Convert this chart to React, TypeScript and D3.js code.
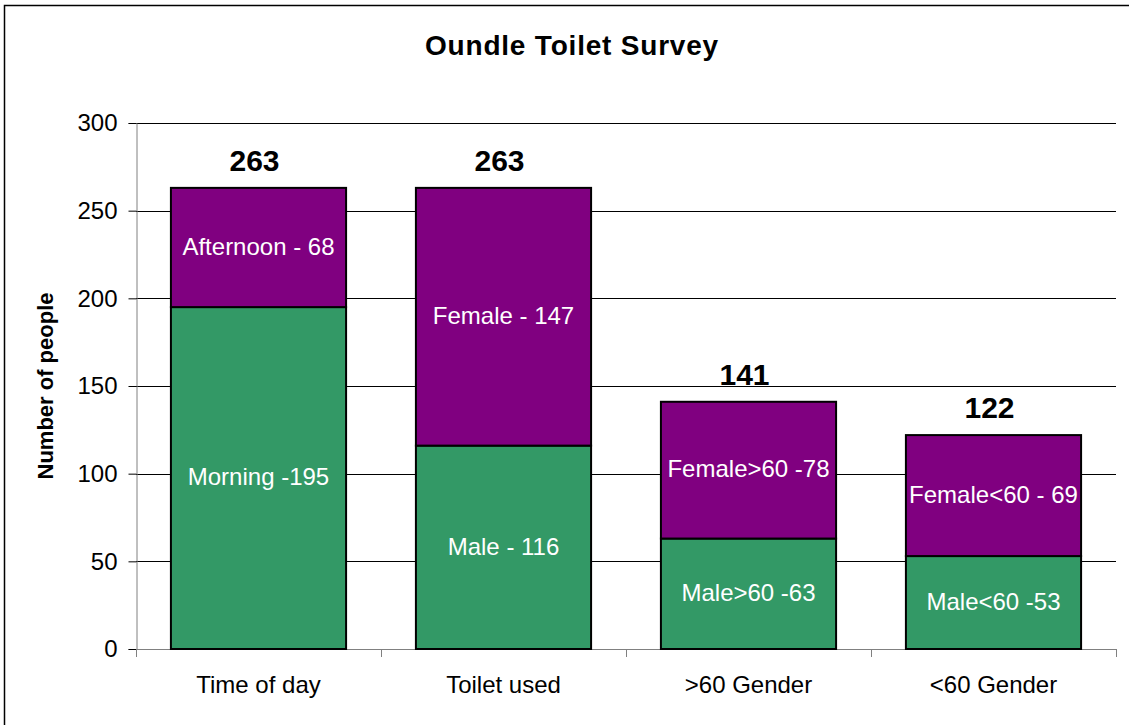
import { useEffect, useRef } from 'react';
import * as d3 from 'd3';

const categories = ['Time of day', 'Toilet used', '>60 Gender', '<60 Gender'];
const lowerValues = [195, 116, 63, 53];
const upperValues = [68, 147, 78, 69];
const lowerLabels = ['Morning -195', 'Male - 116', 'Male>60 -63', 'Male<60 -53'];
const upperLabels = ['Afternoon - 68', 'Female - 147', 'Female>60 -78', 'Female<60 - 69'];
const yTicks = [0, 50, 100, 150, 200, 250, 300];

const FONT = "'Liberation Sans', Arial, sans-serif";

export default function App() {
  const svgRef = useRef<SVGSVGElement>(null);

  useEffect(() => {
    if (!svgRef.current) return;

    const width = 1129;
    const height = 725;
    const margin = { top: 123, right: 13, bottom: 76, left: 136 };

    d3.select(svgRef.current).selectAll('*').remove();

    const svg = d3.select(svgRef.current).attr('width', width).attr('height', height);

    // outer frame (runs off the right and bottom edges)
    svg
      .append('rect')
      .attr('x', 4.5)
      .attr('y', 5.5)
      .attr('width', width + 20)
      .attr('height', height + 20)
      .attr('fill', 'white')
      .attr('stroke', '#000')
      .attr('stroke-width', 1.5);

    const xScale = d3
      .scaleBand()
      .domain(categories)
      .range([margin.left, width - margin.right])
      .paddingInner(0.285)
      .paddingOuter(0.1425);

    const yScale = d3
      .scaleLinear()
      .domain([0, 300])
      .range([height - margin.bottom, margin.top]);

    const x0 = margin.left;
    const x1 = width - margin.right;
    const yBase = height - margin.bottom;

    // grid lines
    svg
      .selectAll('.grid')
      .data(yTicks.filter((t) => t > 0))
      .enter()
      .append('line')
      .attr('x1', x0)
      .attr('x2', x1)
      .attr('y1', (d) => Math.round(yScale(d)) + 0.5)
      .attr('y2', (d) => Math.round(yScale(d)) + 0.5)
      .attr('stroke', '#000')
      .attr('stroke-width', 1);

    // y axis
    const yAxis = svg
      .append('g')
      .attr('transform', `translate(${x0 + 0.5}, 0)`)
      .call(d3.axisLeft(yScale).tickValues(yTicks).tickSize(8).tickPadding(11));
    yAxis.select('.domain').attr('stroke', '#808080');
    yAxis.selectAll('.tick line').attr('stroke', '#000');
    yAxis
      .selectAll('text')
      .style('font-family', FONT)
      .style('font-size', '24px')
      .style('fill', '#000');

    // x axis with ticks at category boundaries
    svg
      .append('line')
      .attr('x1', x0)
      .attr('x2', x1)
      .attr('y1', yBase + 0.5)
      .attr('y2', yBase + 0.5)
      .attr('stroke', '#808080');
    const step = xScale.step();
    const bounds = d3.range(categories.length + 1).map((i) => x0 + i * step);
    svg
      .selectAll('.xtick')
      .data(bounds)
      .enter()
      .append('line')
      .attr('x1', (d) => Math.round(d) + 0.5)
      .attr('x2', (d) => Math.round(d) + 0.5)
      .attr('y1', yBase)
      .attr('y2', yBase + 8)
      .attr('stroke', '#808080');

    svg
      .selectAll('.xlabel')
      .data(categories)
      .enter()
      .append('text')
      .attr('x', (d) => (xScale(d) || 0) + xScale.bandwidth() / 2)
      .attr('y', yBase + 44)
      .attr('text-anchor', 'middle')
      .style('font-family', FONT)
      .style('font-size', '24px')
      .style('fill', '#000')
      .text((d) => d);

    // bars
    const rows = categories.map((c, i) => ({
      cat: c,
      lower: lowerValues[i],
      upper: upperValues[i],
      lowerLabel: lowerLabels[i],
      upperLabel: upperLabels[i],
    }));

    const groups = svg.selectAll('.bar').data(rows).enter().append('g');

    groups
      .append('rect')
      .attr('x', (d) => xScale(d.cat) || 0)
      .attr('y', (d) => yScale(d.lower))
      .attr('width', xScale.bandwidth())
      .attr('height', (d) => yBase - yScale(d.lower))
      .attr('fill', '#339966')
      .attr('stroke', '#000')
      .attr('stroke-width', 2);

    groups
      .append('rect')
      .attr('x', (d) => xScale(d.cat) || 0)
      .attr('y', (d) => yScale(d.lower + d.upper))
      .attr('width', xScale.bandwidth())
      .attr('height', (d) => yScale(d.lower) - yScale(d.lower + d.upper))
      .attr('fill', '#800080')
      .attr('stroke', '#000')
      .attr('stroke-width', 2);

    // segment labels
    groups
      .append('text')
      .attr('x', (d) => (xScale(d.cat) || 0) + xScale.bandwidth() / 2)
      .attr('y', (d) => (yScale(0) + yScale(d.lower)) / 2)
      .attr('dy', '0.3em')
      .attr('text-anchor', 'middle')
      .style('font-family', FONT)
      .style('font-size', '24px')
      .style('fill', '#fff')
      .text((d) => d.lowerLabel);

    groups
      .append('text')
      .attr('x', (d) => (xScale(d.cat) || 0) + xScale.bandwidth() / 2)
      .attr('y', (d) => (yScale(d.lower) + yScale(d.lower + d.upper)) / 2)
      .attr('dy', '0.3em')
      .attr('text-anchor', 'middle')
      .style('font-family', FONT)
      .style('font-size', '24px')
      .style('fill', '#fff')
      .text((d) => d.upperLabel);

    // totals
    groups
      .append('text')
      .attr('x', (d) => (xScale(d.cat) || 0) + xScale.bandwidth() / 2 - 4)
      .attr('y', (d) => yScale(d.lower + d.upper) - 17)
      .attr('text-anchor', 'middle')
      .style('font-family', FONT)
      .style('font-size', '30px')
      .style('font-weight', 'bold')
      .style('fill', '#000')
      .text((d) => d.lower + d.upper);

    // y axis title
    svg
      .append('text')
      .attr('transform', `translate(53, ${(yBase + margin.top) / 2}) rotate(-90)`)
      .attr('text-anchor', 'middle')
      .style('font-family', FONT)
      .style('font-size', '22px')
      .style('font-weight', 'bold')
      .style('fill', '#000')
      .text('Number of people');

    // title
    svg
      .append('text')
      .attr('x', 572)
      .attr('y', 55)
      .attr('text-anchor', 'middle')
      .style('font-family', FONT)
      .style('font-size', '28px')
      .style('font-weight', 'bold')
      .style('letter-spacing', '0.8px')
      .style('fill', '#000')
      .text('Oundle Toilet Survey');
  }, []);

  return (
    <div style={{ position: 'fixed', left: 0, top: 0, width: 1129, height: 725, overflow: 'hidden', background: '#fff' }}>
      <svg ref={svgRef} style={{ display: 'block' }} />
    </div>
  );
}
